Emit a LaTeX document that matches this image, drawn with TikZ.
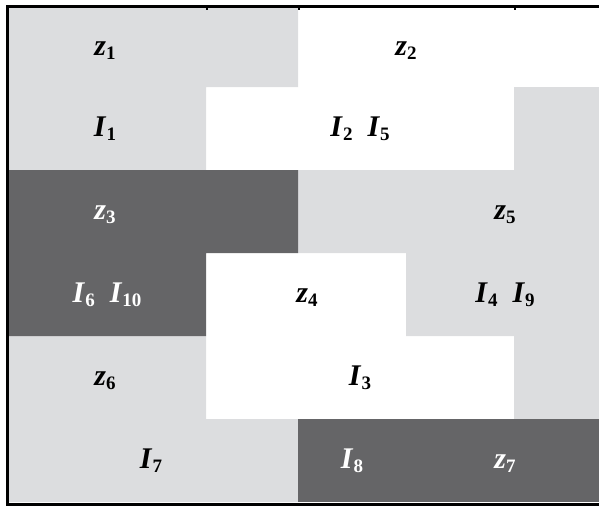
\documentclass[tikz,border=0pt]{standalone}
\usepackage{fontspec}
\setmainfont{Liberation Serif}
\definecolor{lightfill}{HTML}{DCDDDF}
\definecolor{darkfill}{HTML}{656567}
\newcommand{\lbl}[2]{\textbf{\textit{#1}}\raisebox{-4pt}{\fontsize{19}{19}\selectfont\bfseries #2}}
\tikzset{
  lab/.style={anchor=base, inner sep=0pt, font=\fontsize{30}{30}\selectfont},
  labw/.style={lab, text=white}
}
\begin{document}
\begin{tikzpicture}[x=1pt, y=-1pt, line join=miter]
	\useasboundingbox (0,0) rectangle (599,506);
	\def\xa{9}  \def\xb{206} \def\xc{298}
	\def\xd{406} \def\xe{514} \def\xf{599}
	
	% light regions
	\fill[lightfill] (\xa,8) -- (\xc,8) -- (\xc,87) -- (\xb,87) -- (\xb,170) -- (\xa,170) -- cycle;
	\fill[lightfill] (\xe,87) -- (\xf,87) -- (\xf,419) -- (\xe,419) -- (\xe,336) -- (\xd,336)
		-- (\xd,253) -- (\xc,253) -- (\xc,170) -- (\xe,170) -- cycle;
	\fill[lightfill] (\xa,336) -- (\xb,336) -- (\xb,419) -- (\xc,419) -- (\xc,502) -- (\xa,502) -- cycle;
	% dark regions
	\fill[darkfill] (\xa,170) -- (\xc,170) -- (\xc,253) -- (\xb,253) -- (\xb,336) -- (\xa,336) -- cycle;
	\fill[darkfill] (\xc,419) rectangle (\xf,502);
	
	\draw[line width=3pt] (\xf,6.5) -- (7.5,6.5) -- (7.5,504) -- (\xf,504);
	\foreach \x in {\xb,\xc,\xe}
		\draw[line width=2pt] (\x+1,7) -- (\x+1,9.5);
	
	\node[lab]  (z1)  at (105,55.5)  {\lbl{z}{1}};
	\node[lab]  (z2)  at (406,55.5)  {\lbl{z}{2}};
	\node[lab]  (I1)  at (105,136.5) {\lbl{I}{1}};
	\node[lab]  (I25) at (360,136.5) {\lbl{I}{2}\hspace{15pt}\lbl{I}{5}};
	\node[labw] (z3)  at (105,219.5) {\lbl{z}{3}};
	\node[lab]  (z5)  at (505,219.5) {\lbl{z}{5}};
	\node[labw] (I610) at (107,302.5) {\lbl{I}{6}\hspace{15pt}\lbl{I}{10}};
	\node[lab]  (z4)  at (307,302.5) {\lbl{z}{4}};
	\node[lab]  (I49) at (505,302.5) {\lbl{I}{4}\hspace{15pt}\lbl{I}{9}};
	\node[lab]  (z6)  at (105,385.5) {\lbl{z}{6}};
	\node[lab]  (I3)  at (360,385.5) {\lbl{I}{3}};
	\node[lab]  (I7)  at (151,468.5) {\lbl{I}{7}};
	\node[labw] (I8)  at (352,468.5) {\lbl{I}{8}};
	\node[labw] (z7)  at (505,468.5) {\lbl{z}{7}};
\end{tikzpicture}
\end{document}
